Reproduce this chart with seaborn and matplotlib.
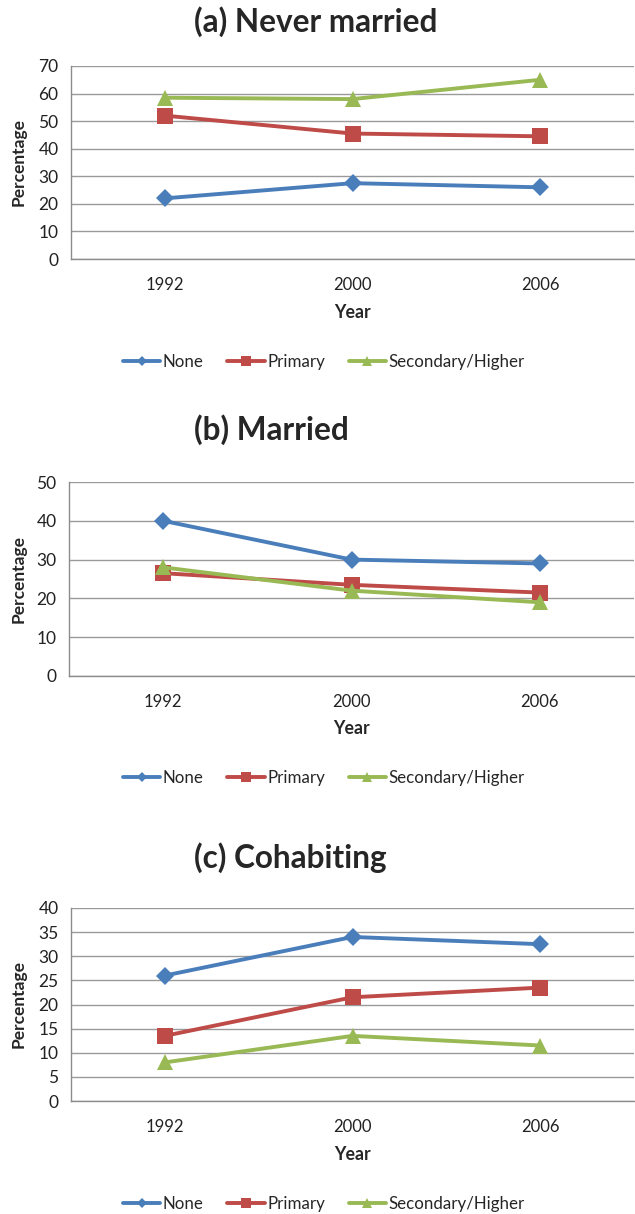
import matplotlib
matplotlib.use("Agg")
import matplotlib.pyplot as plt
from matplotlib.ticker import FixedLocator
import seaborn as sns
import pandas as pd

years = ["1992", "2000", "2006"]
groups = ["None", "Primary", "Secondary/Higher"]

never_none = [22, 27.5, 26]
never_primary = [52, 45.5, 44.5]
never_secondary = [58.5, 58, 65]

married_none = [40, 30, 29]
married_primary = [26.5, 23.5, 21.5]
married_secondary = [28, 22, 19]

cohab_none = [26, 34, 32.5]
cohab_primary = [13.5, 21.5, 23.5]
cohab_secondary = [8, 13.5, 11.5]

titles = ["(a) Never married", "(b) Married", "(c) Cohabiting"]
ymaxes = [70, 50, 40]
ysteps = [10, 10, 5]

panels = [
    [never_none, never_primary, never_secondary],
    [married_none, married_primary, married_secondary],
    [cohab_none, cohab_primary, cohab_secondary],
]

colors = {"None": "#4A7EBB", "Primary": "#BE4B48", "Secondary/Higher": "#98B954"}
markers = {"None": "D", "Primary": "s", "Secondary/Higher": "^"}
msizes = {"None": 9, "Primary": 11, "Secondary/Higher": 12}

sns.set_theme(style="white")
plt.rcParams["font.family"] = ["Lato", "DejaVu Sans"]

fig = plt.figure(figsize=(6.35, 12.14), dpi=100)
H = 1214.0
W = 635.0

# pixel layout: (left, top, bottom) of plot area, title y, year-label y, legend y
layout = [
    (71, 66, 259, 22, 312, 362),
    (69, 482, 676, 430, 728, 778),
    (71, 908, 1101, 858, 1154, 1204),
]

for i, (vals, title, ymax, ystep) in enumerate(zip(panels, titles, ymaxes, ysteps)):
    left, top, bottom, ty, yy, ly = layout[i]
    ax = fig.add_axes([left / W, 1 - bottom / H, (634 - left) / W, (bottom - top) / H])
    rows = []
    for g, v in zip(groups, vals):
        for y, val in zip(years, v):
            rows.append({"Year": y, "Percentage": val, "Group": g})
    df = pd.DataFrame(rows)
    for g in groups:
        sub = df[df["Group"] == g]
        sns.lineplot(data=sub, x="Year", y="Percentage", ax=ax, color=colors[g],
                     marker=markers[g], markersize=msizes[g], markeredgewidth=0,
                     linewidth=2.8, label=g, legend=False, sort=False)
    ax.set_xlim(-0.5, 2.5)
    ax.set_ylim(0, ymax)
    ax.set_yticks(list(range(0, ymax + 1, ystep)))
    ax.yaxis.grid(True, color="#9A9A9A", linewidth=1.0)
    ax.xaxis.grid(False)
    ax.set_axisbelow(True)
    for s in ["top", "right"]:
        ax.spines[s].set_visible(False)
    for s in ["left", "bottom"]:
        ax.spines[s].set_color("#8C8C8C")
        ax.spines[s].set_linewidth(1.0)
    ax.set_xticks([0, 1, 2])
    ax.set_xticklabels(years)
    ax.xaxis.set_minor_locator(FixedLocator([-0.5, 0.5, 1.5, 2.5]))
    ax.tick_params(axis="x", which="major", length=0, labelsize=12, pad=13, colors="#222222")
    ax.tick_params(axis="x", which="minor", length=6, width=1, color="#8C8C8C", direction="out")
    ax.tick_params(axis="y", which="major", length=5, width=1, color="#8C8C8C", direction="out",
                   labelsize=12.5, pad=4, labelcolor="#222222")
    ax.set_xlabel("")
    ax.set_ylabel("Percentage", fontsize=12.5, fontweight="bold")
    ax.yaxis.set_label_coords((27 - left) / (634 - left), 0.5)
    xc = (left + 634) / 2.0
    fig.text(xc / W, 1 - yy / H, "Year", ha="center", va="center",
             fontsize=12.8, fontweight="bold")
    fig.text(194 / W, 1 - ty / H, title, ha="left", va="center",
             fontsize=22.7, fontweight="bold")
    handles, labels = ax.get_legend_handles_labels()
    leg = fig.legend(handles, labels, loc="center", bbox_to_anchor=(0.51, 1 - ly / H),
                     ncol=3, frameon=False, fontsize=12.2, handlelength=2.2,
                     columnspacing=1.4, handletextpad=0.15, markerscale=0.6)

fig.savefig("out.png", dpi=100, facecolor="white")
